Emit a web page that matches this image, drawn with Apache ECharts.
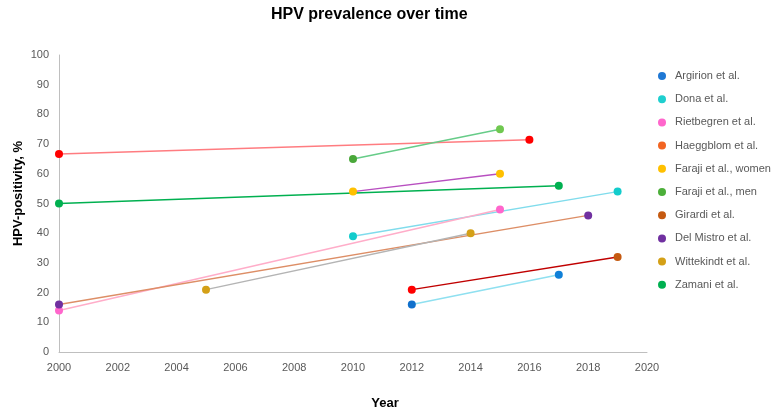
<!DOCTYPE html>
<html>
<head>
<meta charset="utf-8">
<script src="https://cdn.jsdelivr.net/npm/echarts@6/dist/echarts.min.js"></script>
<style>html,body{margin:0;padding:0;background:#fff}#c{width:782px;height:417px}</style>
</head>
<body>
<div id="c"></div>
<script>
const studies = ['Argirion et al.', 'Dona et al.', 'Rietbegren et al.', 'Haeggblom et al.', 'Faraji et al., women', 'Faraji et al., men', 'Girardi et al.', 'Del Mistro et al.', 'Wittekindt et al.', 'Zamani et al.'];
const startYears  = [2012, 2010, 2000, 2000, 2010, 2010, 2012, 2000, 2005, 2000];
const startValues = [16, 39, 14, 66.7, 54, 65, 21, 16, 21, 50];
const endYears    = [2017, 2019, 2015, 2016, 2015, 2015, 2019, 2018, 2014, 2017];
const endValues   = [26, 54, 48, 71.5, 60, 75, 32, 46, 40, 56];

// styling
const legendColors = ['#1f78d4', '#1fcfcf', '#ff66cc', '#f26522', '#ffc000', '#4caf3a', '#c55a11', '#7030a0', '#d4a017', '#00b050'];
const startMarker  = ['#1070cc', '#12cccc', '#ff66cc', '#ff0000', '#ffc000', '#4aa83a', '#ff0000', '#7030a0', '#d4a017', '#00b050'];
const endMarker    = ['#1080d8', '#12cccc', '#ff66cc', '#ff0000', '#ffc000', '#70c850', '#c55a11', '#7030a0', '#d4a017', '#00b050'];
const lineColors   = ['#8fe0f0', '#80dcec', '#ffadc9', '#ff7c80', '#b84fc0', '#66cc88', '#c00000', '#dd8e66', '#b4b4b4', '#00b050'];

const series = studies.map((name, i) => ({
  name: name,
  type: 'line',
  symbol: 'circle',
  symbolSize: 8,
  color: legendColors[i],
  itemStyle: { color: legendColors[i] },
  lineStyle: { color: lineColors[i], width: 1.5 },
  emphasis: { disabled: true },
  data: [
    { value: [startYears[i], startValues[i]], itemStyle: { color: startMarker[i] } },
    { value: [endYears[i], endValues[i]], itemStyle: { color: endMarker[i] } }
  ]
}));

const chart = echarts.init(document.getElementById('c'));
chart.setOption({
  animation: false,
  title: {
    text: 'HPV prevalence over time',
    left: 266, top: 2,
    textStyle: { fontFamily: 'Liberation Sans', fontSize: 16, fontWeight: 'bold', color: '#000' }
  },
  legend: {
    orient: 'vertical',
    left: 653, top: 64,
    icon: 'circle',
    itemWidth: 8, itemHeight: 8,
    itemGap: 9.2,
    textStyle: { fontFamily: 'Liberation Sans', fontSize: 11, color: '#595959', lineHeight: 14, padding: [0, 0, 0, 4] },
    data: studies
  },
  grid: { left: 59, right: 135, top: 55, bottom: 65, containLabel: false },
  xAxis: {
    type: 'value', min: 2000, max: 2020, interval: 2,
    name: 'Year', nameLocation: 'middle', nameGap: 45, nameMoveOverlap: false,
    nameTextStyle: { fontFamily: 'Liberation Sans', fontSize: 13, fontWeight: 'bold', color: '#000', padding: [0, 0, 0, 64] },
    axisLine: { lineStyle: { color: '#bfbfbf' } },
    axisTick: { show: false },
    splitLine: { show: false },
    axisLabel: { formatter: v => String(v), fontFamily: 'Liberation Sans', fontSize: 11, color: '#595959', margin: 10 }
  },
  yAxis: {
    type: 'value', min: 0, max: 100, interval: 10,
    name: 'HPV-positivity, %', nameLocation: 'middle', nameGap: 34, nameMoveOverlap: false,
    nameTextStyle: { fontFamily: 'Liberation Sans', fontSize: 13, fontWeight: 'bold', color: '#000', padding: [0, 0, 0, 20] },
    axisLine: { show: true, lineStyle: { color: '#bfbfbf' } },
    axisTick: { show: false },
    splitLine: { show: false },
    axisLabel: { fontFamily: 'Liberation Sans', fontSize: 11, color: '#595959', margin: 10 }
  },
  series: series
});
</script>
</body>
</html>
